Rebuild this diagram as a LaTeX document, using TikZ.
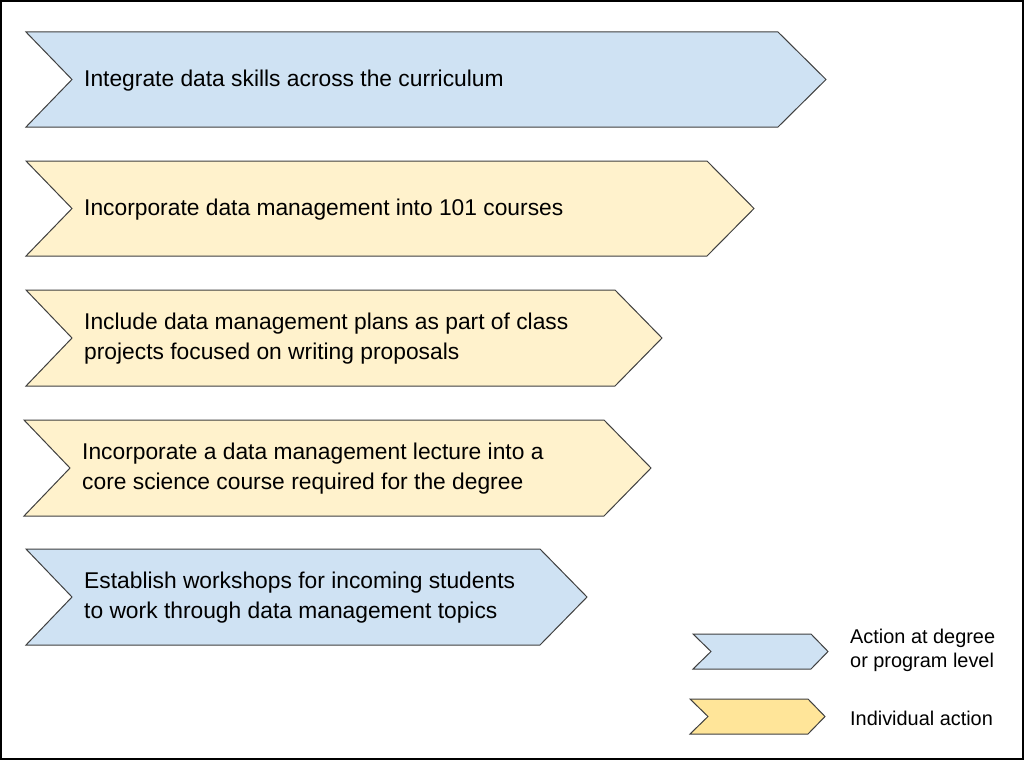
\documentclass[tikz,border=0pt]{standalone}
\usepackage{fontspec}
\setmainfont{Liberation Sans}
\definecolor{cblue}{HTML}{CFE2F3}
\definecolor{cyel}{HTML}{FFF2CC}
\definecolor{cyeldark}{HTML}{FFE599}
\definecolor{cedge}{HTML}{404040}
\newcommand{\mychev}[7]{% left, top, bottom, notch depth, flat end, tip, fill
  \pgfmathsetmacro{\midy}{(#2+#3)/2}
  \draw[chevline,fill=#7] (#1,#2) -- (#5,#2) -- (#6,\midy) -- (#5,#3) -- (#1,#3) -- ({#1+#4},\midy) -- cycle;
}
\begin{document}
\begin{tikzpicture}[x=1pt,y=-1pt,
  chevline/.style={draw=cedge,line width=1pt,line join=miter},
  maintext/.style={anchor=west,inner sep=0pt,align=left,font=\fontsize{22.8}{30}\selectfont},
  legtext/.style={anchor=west,inner sep=0pt,align=left,font=\fontsize{19.9}{24}\selectfont}]
\useasboundingbox (0,0) rectangle (1024,760);
\fill[white] (0,0) rectangle (1024,760);
\draw[black,line width=2pt] (1,1) rectangle (1023,759);
% chevrons
\mychev{26}{32}{127}{46}{778}{826}{cblue}
\mychev{26}{161}{256}{46}{707}{754}{cyel}
\mychev{26}{290}{386}{46}{615}{662}{cyel}
\mychev{24}{420}{516}{46}{604}{651}{cyel}
\mychev{26}{549}{645}{46}{540}{587}{cblue}
% legend chevrons
\mychev{693}{634}{669}{18}{811}{828}{cblue}
\mychev{690}{699}{734}{18}{808}{825}{cyeldark}
% texts
\node[maintext] (t1) at (84,81) {Integrate data skills across the curriculum};
\node[maintext] (t2) at (84,210) {Incorporate data management into 101 courses};
\node[maintext] (t3) at (84,339) {Include data management plans as part of class\\projects focused on writing proposals};
\node[maintext] (t4) at (82,469) {Incorporate a data management lecture into a\\core science course required for the degree};
\node[maintext] (t5) at (84,598) {Establish workshops for incoming students\\to work through data management topics};
\node[legtext] (l1) at (850,650) {Action at degree\\or program level};
\node[legtext] (l2) at (850,718) {Individual action};
\end{tikzpicture}
\end{document}
